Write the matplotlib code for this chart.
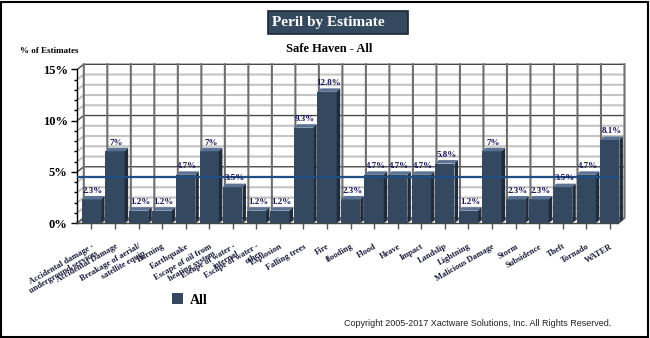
import matplotlib
matplotlib.use('Agg')
import matplotlib.pyplot as plt
from matplotlib.patches import Polygon, Rectangle
import numpy as np

# ---------------- data ----------------
categories = [
    "Accidental damage -\nunderground services", "Accidental Damage",
    "Breakage of aerial/\nsatellite equip", "Burning", "Earthquake",
    "Escape of oil from\nheating system", "Escape of water -\ninternal",
    "Escape of water -\nother", "Explosion", "Falling trees", "Fire",
    "flooding", "Flood", "Heave", "Impact", "Landslip", "Lightning",
    "Malicious Damage", "Storm", "Subsidence", "Theft", "Tornado", "WATER",
]
values = [2.3, 7, 1.2, 1.2, 4.7, 7, 3.5, 1.2, 1.2, 9.3, 12.8,
          2.3, 4.7, 4.7, 4.7, 5.8, 1.2, 7, 2.3, 2.3, 3.5, 4.7, 8.1]
y_ticks = [0, 5, 10, 15]
y_tick_labels = ["0%", "5%", "10%", "15%"]
series_name = "All"
title = "Peril by Estimate"
subtitle = "Safe Haven - All"
y_title = "% of Estimates"
copyright_text = "Copyright 2005-2017 Xactware Solutions, Inc. All Rights Reserved."

# ---------------- style ----------------
SERIF = ["Liberation Serif", "DejaVu Serif"]
FRONT = "#344860"
TOP = "#5b7392"
SIDE = "#1f2c3b"
NAVY = "#15155a"
AVG = "#1f4e85"
MINOR = "#c4c4c4"
MAJOR = "#4a4a4a"
VGRID = "#6e6e6e"

W, H = 650, 338
fig = plt.figure(figsize=(W / 100, H / 100), dpi=100)
fig.patch.set_facecolor("white")

ax_left, ax_bottom, ax_w, ax_h = 77.3, 115.0, 540.7, 153.7
ax = fig.add_axes([ax_left / W, ax_bottom / H, ax_w / W, ax_h / H])
n = len(values)
x = np.arange(n)
xl, xr = -0.6, n - 0.65
ax.set_xlim(xl, xr)
ax.set_ylim(0, 15)
ax.set_facecolor("none")

pxx = ax_w / (xr - xl)
pxy = ax_h / 15.0
ox, oy = 6.5 / pxx, 5.0 / pxy      # wall depth
bx, by = 3.5 / pxx, 3.5 / pxy      # bar depth

# horizontal grid (left wall diagonal + back wall)
for yv in range(0, 16):
    major = (yv % 5 == 0)
    ax.plot([xl, xl + ox, xr + ox], [yv, yv + oy, yv + oy],
            color=MAJOR if major else MINOR, lw=1.0 if major else 1.5,
            zorder=1 if not major else 1.5, clip_on=False, solid_capstyle="butt")

# vertical grid (floor diagonal + back wall)
bounds = np.linspace(xl, xr, n + 1)
for xb in bounds:
    ax.plot([xb, xb + ox, xb + ox], [0, oy, 15 + oy],
            color=VGRID, lw=1.5, zorder=1.6, clip_on=False)

# bars
bars = ax.bar(x, values, width=0.82, color=FRONT, zorder=4,
              label=series_name, clip_on=False)
for r, v in zip(bars, values):
    x0 = r.get_x()
    x1 = x0 + r.get_width()
    h = r.get_height()
    ax.add_patch(Polygon([(x0, h), (x1, h), (x1 + bx, h + by), (x0 + bx, h + by)],
                         closed=True, facecolor=TOP, edgecolor="none",
                         zorder=4, clip_on=False))
    ax.add_patch(Polygon([(x1, 0), (x1 + bx, by), (x1 + bx, h + by), (x1, h)],
                         closed=True, facecolor=SIDE, edgecolor="none",
                         zorder=4, clip_on=False))
    ax.text((x0 + x1) / 2 + bx / 2, h + by + 0.12, f"{v:g}%",
            ha="center", va="bottom", fontsize=6.5, fontweight="bold",
            family=SERIF, color=NAVY, zorder=7)

# average line
avg = float(np.mean(values))
ax.axhline(avg, color=AVG, lw=1.6, zorder=6)

# axes styling
for s in ["top", "right"]:
    ax.spines[s].set_visible(False)
ax.spines["left"].set_color("black")
ax.spines["left"].set_linewidth(1.0)
ax.spines["bottom"].set_color("#444444")
ax.spines["bottom"].set_linewidth(1.0)

ax.set_yticks(y_ticks, y_tick_labels, fontsize=9, fontweight="bold", family=SERIF)
ax.set_yticks(range(0, 16), minor=True)
ax.tick_params(axis="y", which="major", length=4, width=1, color="black", pad=3)
ax.tick_params(axis="y", which="minor", length=2.5, width=1, color="black")

ax.set_xticks(x, categories)
ax.tick_params(axis="x", length=4, width=1, color="#555555", pad=10)
for lbl in ax.get_xticklabels():
    lbl.set_rotation(30)
    lbl.set_ha("right")
    lbl.set_rotation_mode("anchor")
    lbl.set_fontsize(6)
    lbl.set_fontweight("bold")
    lbl.set_family(SERIF)
    lbl.set_color("#1a1a3a")
    lbl.set_linespacing(1.0)

# titles
fig.add_artist(Rectangle((268 / W, 1 - 34 / H), 140 / W, 23 / H,
                         transform=fig.transFigure, facecolor="#34495e",
                         edgecolor="#1b2632", lw=1.2))
fig.text(328 / W, 1 - 22.5 / H, title, ha="center", va="center", color="white",
         fontsize=11, fontweight="bold", family=SERIF)
fig.text(329 / W, 1 - 49 / H, subtitle, ha="center", va="center", color="black",
         fontsize=9, fontweight="bold", family=SERIF)
fig.text(20 / W, 1 - 51 / H, y_title, ha="left", va="center", color="black",
         fontsize=6.5, fontweight="bold", family=SERIF)

# legend
fig.legend(handles=[bars], labels=[series_name], loc="center left",
           bbox_to_anchor=(172 / W, 1 - 300 / H), frameon=False,
           prop={"family": SERIF, "weight": "bold", "size": 10},
           handlelength=0.8, handleheight=0.8, handletextpad=0.5,
           borderpad=0, borderaxespad=0)

fig.text(344 / W, 1 - 324 / H, copyright_text, ha="left", va="center",
         fontsize=6.5, family=["Liberation Sans", "DejaVu Sans"], color="#222222")

# outer frame
fig.add_artist(Rectangle((1 / W, 1.5 / H), 647 / W, 335 / H,
                         transform=fig.transFigure, facecolor="none",
                         edgecolor="black", lw=1.5))

fig.savefig("out.png", dpi=100)
